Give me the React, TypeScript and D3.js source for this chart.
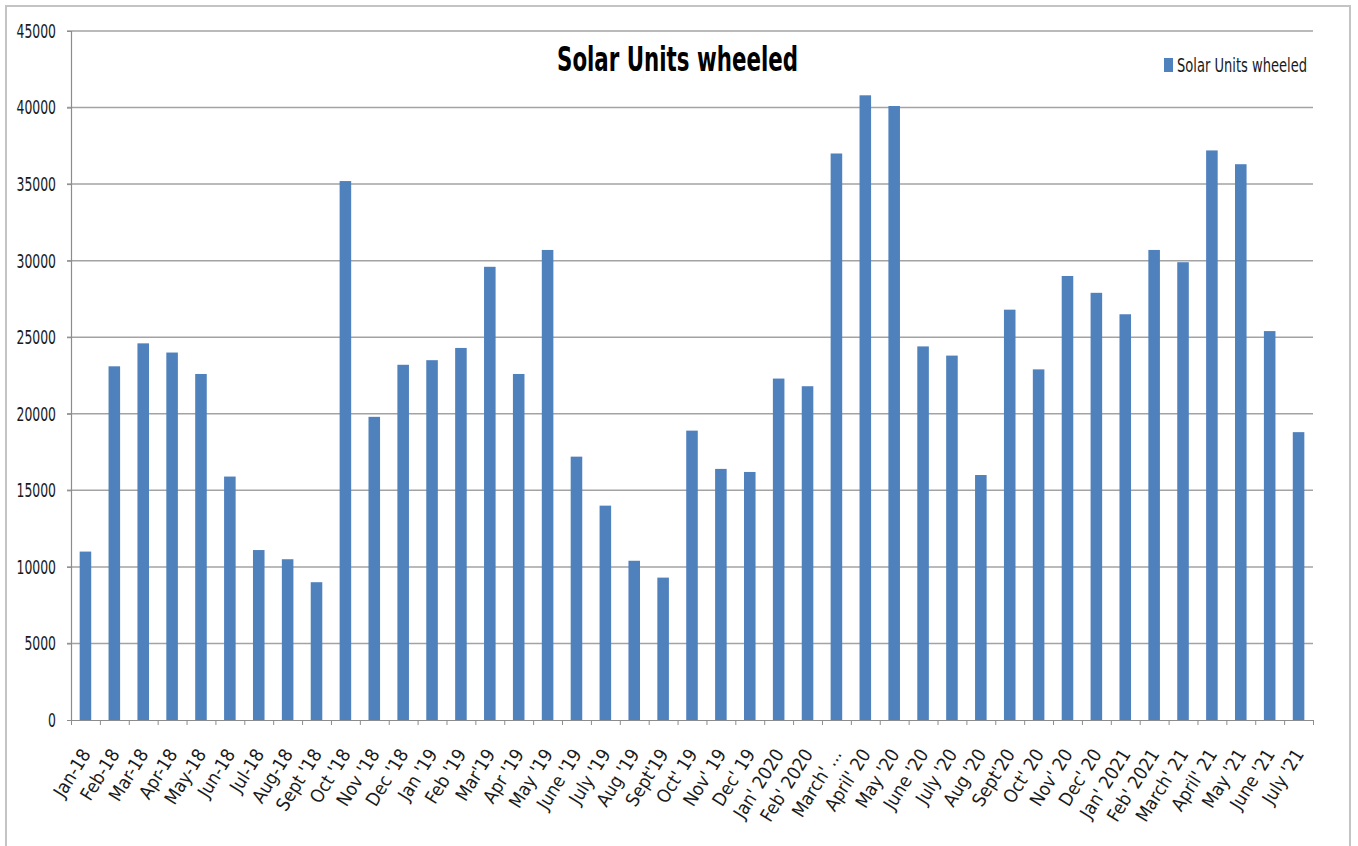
import { useEffect, useRef } from 'react'
import * as d3 from 'd3'

const months = [
    "Jan-18", "Feb-18", "Mar-18", "Apr-18", "May-18", "Jun-18", "Jul-18", "Aug-18",
    "Sept '18", "Oct '18", "Nov '18", "Dec '18", "Jan '19", "Feb '19", "Mar'19", "Apr '19",
    "May '19", "June '19", "July '19", "Aug '19", "Sept'19", "Oct' 19", "Nov' 19", "Dec' 19",
    "Jan' 2020", "Feb' 2020", "March' ...", "April' 20", "May '20", "June '20", "July '20",
    "Aug '20", "Sept'20", "Oct' 20", "Nov' 20", "Dec' 20", "Jan' 2021", "Feb' 2021",
    "March' 21", "April' 21", "May '21", "June '21", "July '21"
]

const unitsWheeled = [
    11000, 23100, 24600, 24000, 22600, 15900, 11100, 10500, 9000, 35200,
    19800, 23200, 23500, 24300, 29600, 22600, 30700, 17200, 14000, 10400,
    9300, 18900, 16400, 16200, 22300, 21800, 37000, 40800, 40100, 24400,
    23800, 16000, 26800, 22900, 29000, 27900, 26500, 30700, 29900, 37200,
    36300, 25400, 18800
]

const yTicks = [0, 5000, 10000, 15000, 20000, 25000, 30000, 35000, 40000, 45000]

const seriesName = "Solar Units wheeled"
const chartTitle = "Solar Units wheeled"

function App() {
    const ref = useRef<SVGSVGElement>(null)

    useEffect(() => {
        const width = 1358
        const height = 846
        const plot = { left: 71, right: 1313, top: 31, bottom: 720 }
        const font = "'DejaVu Sans Condensed', 'DejaVu Sans', sans-serif"
        const barColor = "#4f81bd"

        const svg = d3.select(ref.current)
        svg.selectAll("*").remove()

        // outer chart frame
        svg.append("rect")
            .attr("x", 6)
            .attr("y", 6)
            .attr("width", 1344)
            .attr("height", 900)
            .attr("fill", "white")
            .attr("stroke", "#c4c4c4")
            .attr("stroke-width", 2)

        const x = d3
            .scaleBand()
            .domain(months)
            .range([plot.left, plot.right])
            .paddingInner(0.6)
            .paddingOuter(0.3)

        const y = d3
            .scaleLinear()
            .domain([0, 45000])
            .range([plot.bottom, plot.top])

        // gridlines
        svg.append("g")
            .selectAll("line")
            .data(yTicks.filter(d => d > 0))
            .join("line")
            .attr("x1", plot.left - 4)
            .attr("x2", plot.right)
            .attr("y1", d => y(d))
            .attr("y2", d => y(d))
            .attr("stroke", "#a3a3a3")
            .attr("stroke-width", 1.5)

        // bars
        svg.append("g")
            .selectAll("rect")
            .data(unitsWheeled)
            .join("rect")
            .attr("x", (d, i) => x(months[i]) as number)
            .attr("y", d => y(d))
            .attr("width", x.bandwidth())
            .attr("height", d => y(0) - y(d))
            .attr("fill", barColor)

        // y axis
        const yAxis = svg.append("g")
            .attr("transform", `translate(${plot.left}, 0)`)
            .call(
                d3.axisLeft(y)
                    .tickValues(yTicks)
                    .tickSize(4)
                    .tickPadding(11)
                    .tickFormat(d => String(d))
            )
        yAxis.select(".domain").attr("stroke", "#8c8c8c").attr("stroke-width", 1.2)
        yAxis.selectAll(".tick line").attr("stroke", "#8c8c8c")
        yAxis.selectAll<SVGTextElement, number>(".tick text")
            .attr("font-family", font)
            .attr("font-size", 20)
            .attr("fill", "#1a1a1a")
            .attr("textLength", d => String(d).length * 7.9)
            .attr("lengthAdjust", "spacingAndGlyphs")

        // x axis ticks between categories
        const xEdges = d3
            .scaleLinear()
            .domain([0, months.length])
            .range([plot.left, plot.right])

        const xAxis = svg.append("g")
            .attr("transform", `translate(0, ${plot.bottom})`)
            .call(
                d3.axisBottom(xEdges)
                    .tickValues(d3.range(months.length + 1))
                    .tickSize(5)
                    .tickSizeOuter(0)
                    .tickFormat(() => "")
            )
        xAxis.select(".domain").attr("stroke", "#8c8c8c").attr("stroke-width", 1.2)
        xAxis.selectAll(".tick line").attr("stroke", "#8c8c8c")

        // x labels
        svg.append("g")
            .selectAll("text")
            .data(months)
            .join("text")
            .attr("transform", d => {
                const cx = (x(d) as number) + x.bandwidth() / 2
                return `translate(${cx + 6}, 754) rotate(-58)`
            })
            .attr("text-anchor", "end")
            .attr("font-family", font)
            .attr("font-size", 18.5)
            .attr("fill", "#1a1a1a")
            .text(d => d)

        // title
        svg.append("text")
            .attr("x", 557)
            .attr("y", 71)
            .attr("font-family", font)
            .attr("font-weight", "bold")
            .attr("font-size", 33)
            .attr("textLength", 241)
            .attr("lengthAdjust", "spacingAndGlyphs")
            .attr("fill", "black")
            .text(chartTitle)

        // legend
        svg.append("rect")
            .attr("x", 1164)
            .attr("y", 58)
            .attr("width", 9)
            .attr("height", 14)
            .attr("fill", barColor)

        svg.append("text")
            .attr("x", 1177)
            .attr("y", 72)
            .attr("font-family", font)
            .attr("font-size", 19)
            .attr("textLength", 130)
            .attr("lengthAdjust", "spacingAndGlyphs")
            .attr("fill", "#1a1a1a")
            .text(seriesName)

        svg.attr("width", width).attr("height", height)
    }, [])

    return (
        <svg
            ref={ref}
            width={1358}
            height={846}
            style={{ position: "absolute", left: 0, top: 0, background: "white" }}
        />
    )
}

export default App
